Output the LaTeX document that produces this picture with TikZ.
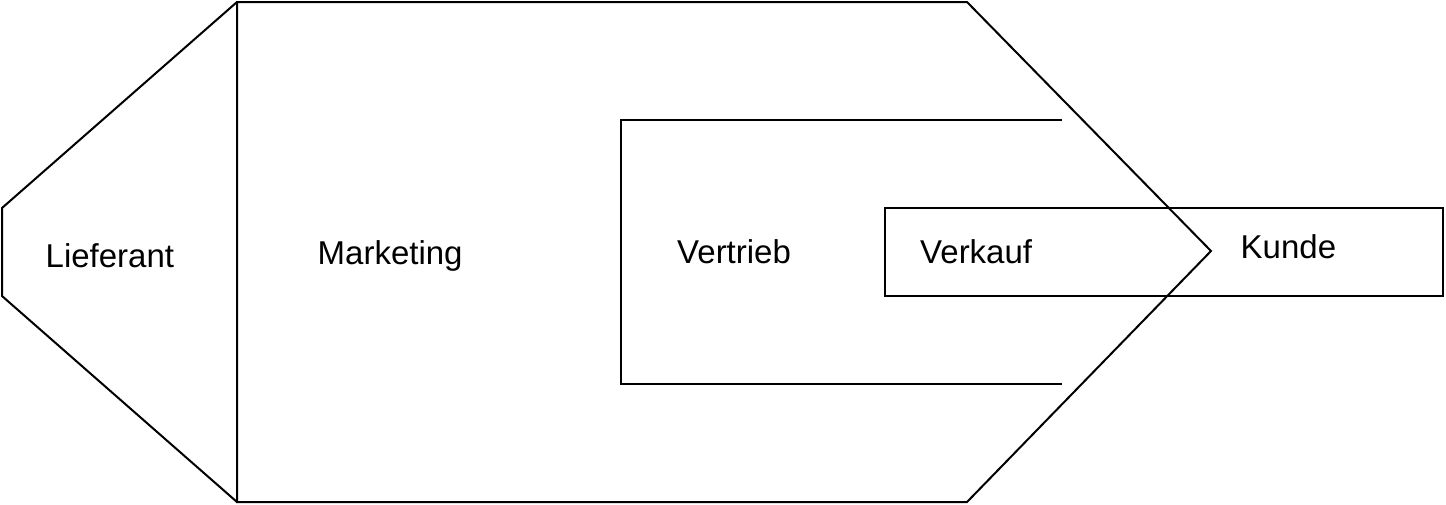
\documentclass[tikz,border=0pt]{standalone}
\usepackage{fontspec}
\setmainfont{Liberation Sans}
\begin{document}
\begin{tikzpicture}[x=1pt,y=-1pt,
  shape line/.style={draw=black,line width=2pt,line join=miter},
  lbl/.style={anchor=base west,inner sep=0pt,font=\fontsize{33}{40}\selectfont}]
\useasboundingbox (0,0) rectangle (1446,504);
% coordinates
\coordinate (lt) at (237,2);
\coordinate (lb) at (237,502);
\coordinate (l1) at (2,208);
\coordinate (l2) at (2,296);
\coordinate (rt) at (967,2);
\coordinate (tip) at (1211,251);
\coordinate (rb) at (967,502);
\coordinate (b1) at (1062,120);
\coordinate (b2) at (621,120);
\coordinate (b3) at (621,384);
\coordinate (b4) at (1062,384);
% left hexagon part
\draw[shape line] (lt) -- (l1) -- (l2) -- (lb);
% big arrow shape
\draw[shape line] (lt) -- (rt) -- (tip) -- (rb) -- (lb) -- cycle;
% open bracket
\draw[shape line] (b1) -- (b2) -- (b3) -- (b4);
% rectangle
\draw[shape line] (885,208) rectangle (1443,296);
% labels
\node[lbl] (lief) at (45.5,267) {Lieferant};
\node[lbl] (mark) at (317.5,264) {Marketing};
\node[lbl] (vert) at (677,263) {Vertrieb};
\node[lbl] (verk) at (920,263) {Verkauf};
\node[lbl] (kund) at (1240.5,258) {Kunde};
\end{tikzpicture}
\end{document}
